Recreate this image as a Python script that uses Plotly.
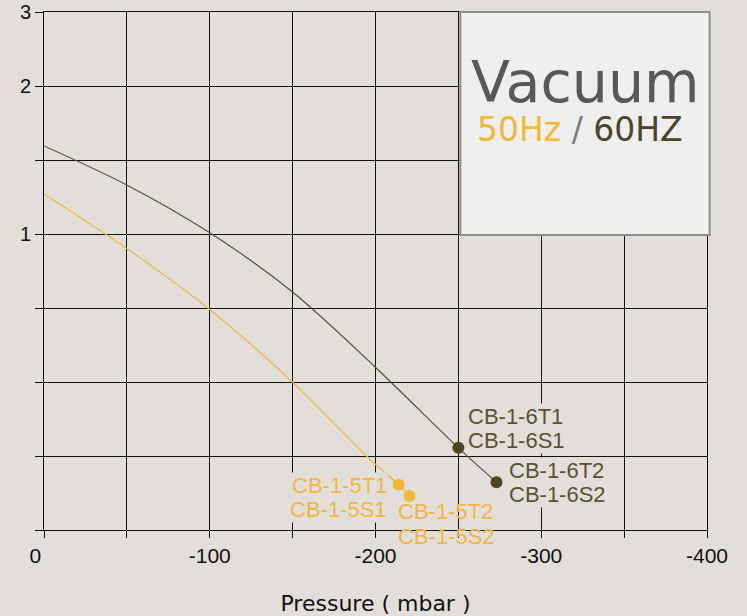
import plotly.graph_objects as go

# Pressure (mbar) vs. flow
p_60 = [0, -50.2, -100.5, -150.3, -200.4, -250, -273]
q_60 = [5.19, 4.66, 4.01, 3.21, 2.19, 1.11, 0.645]

p_50 = [0, -50.2, -100.5, -150.3, -196, -214, -220.5]
q_50 = [4.54, 3.80, 2.97, 1.99, 0.97, 0.61, 0.46]

# Rated operating points and their model labels
pt_60_p = [-250, -273]
pt_60_q = [1.11, 0.645]
pt_60_lbl = [["CB-1-6T1", "CB-1-6S1"], ["CB-1-6T2", "CB-1-6S2"]]

pt_50_p = [-214, -220.5]
pt_50_q = [0.61, 0.46]
pt_50_lbl = [["CB-1-5T1", "CB-1-5S1"], ["CB-1-5T2", "CB-1-5S2"]]

x_ticks = [0, -50, -100, -150, -200, -250, -300, -350, -400]
x_text = ["0\u00a0\u00a0\u00a0", "", "-100", "", "-200", "", "-300", "", "-400"]
y_ticks = [0, 1, 2, 3, 4, 5, 6, 7]
y_text = ["", "", "", "", "1", "", "2", "3"]

BG = "#e2dfdb"
C60_LINE = "#57502f"
C60_DOT = "#4e4521"
C60_TXT = "#5b5232"
C50 = "#f4b538"
C50_TXT = "#f3b53e"
ARIAL = "Liberation Sans, Arial, sans-serif"

fig = go.Figure()

fig.add_trace(go.Scatter(x=p_60, y=q_60, mode="lines",
                         line=dict(color=C60_LINE, width=1.2, shape="spline", smoothing=0.9),
                         hoverinfo="skip", showlegend=False))
fig.add_trace(go.Scatter(x=p_50, y=q_50, mode="lines",
                         line=dict(color=C50, width=1.2, shape="spline", smoothing=0.9),
                         hoverinfo="skip", showlegend=False))

annotations = []

# Label offsets (px) for each operating point: (xanchor, xshift, [yshift line1, line2], opaque)
lbl_60 = [("left", 9, [31, 7], True), ("left", 11, [12, -12], True)]
lbl_50 = [("right", -11, [-1, -25], True), ("left", -12, [-16, -41], False)]

for xs, ys, labels, offs, col in [(pt_60_p, pt_60_q, pt_60_lbl, lbl_60, C60_TXT),
                                  (pt_50_p, pt_50_q, pt_50_lbl, lbl_50, C50_TXT)]:
    for x, y, lines, (anc, dx, dys, opaque) in zip(xs, ys, labels, offs):
        for txt, dy in zip(lines, dys):
            annotations.append(dict(
                x=x, y=y, xref="x", yref="y", text=txt, showarrow=False,
                xanchor=anc, yanchor="middle", xshift=dx, yshift=dy,
                font=dict(family=ARIAL, size=22, color=col),
                bgcolor=BG if opaque else "rgba(0,0,0,0)", borderpad=0))

fig.add_trace(go.Scatter(x=pt_60_p, y=pt_60_q, mode="markers",
                         marker=dict(color=C60_DOT, size=12),
                         hoverinfo="skip", showlegend=False))
fig.add_trace(go.Scatter(x=pt_50_p, y=pt_50_q, mode="markers",
                         marker=dict(color=C50, size=12),
                         hoverinfo="skip", showlegend=False))

# Title panel in the top-right corner
annotations.append(dict(x=0.8167, y=0.865, xref="paper", yref="paper", text="Vacuum",
                        showarrow=False, xanchor="center", yanchor="middle",
                        font=dict(family="DejaVu Sans", size=57, color="#58585a")))
annotations.append(dict(x=0.8077, y=0.774, xref="paper", yref="paper",
                        text="<span style='color:#f5b731'>50Hz</span> "
                             "<span style='color:#7d7d7d'>/</span> "
                             "<span style='color:#4d4526'>60HZ</span>",
                        showarrow=False, xanchor="center", yanchor="middle",
                        font=dict(family="DejaVu Sans", size=33)))

fig.update_layout(
    width=747, height=616,
    margin=dict(l=44, r=40, t=12, b=86),
    paper_bgcolor=BG, plot_bgcolor=BG,
    annotations=annotations,
    shapes=[dict(type="rect", xref="paper", yref="paper",
                 x0=0.628, x1=1.004, y0=0.5695, y1=1.0,
                 fillcolor="#efefef", line=dict(color="#8e8e8e", width=2),
                 layer="above")],
    xaxis=dict(range=[0, -400], tickvals=x_ticks, ticktext=x_text,
               automargin=False,
               showgrid=True, gridcolor="#111111", gridwidth=1,
               zeroline=False, showline=True, mirror=True,
               linecolor="#111111", linewidth=1,
               ticks="outside", ticklen=7, tickcolor="#111111",
               tickfont=dict(family=ARIAL, size=21, color="#111111"),
               title=dict(text="Pressure ( mbar )", standoff=30,
                          font=dict(family="DejaVu Sans", size=22, color="#111111"))),
    yaxis=dict(range=[0, 7], tickvals=y_ticks, ticktext=y_text,
               automargin=False,
               showgrid=True, gridcolor="#111111", gridwidth=1,
               zeroline=False, showline=True, mirror=True,
               linecolor="#111111", linewidth=1,
               ticks="outside", ticklen=8, tickcolor="#111111",
               tickfont=dict(family=ARIAL, size=20, color="#111111")),
)

fig.write_html("out.html")
